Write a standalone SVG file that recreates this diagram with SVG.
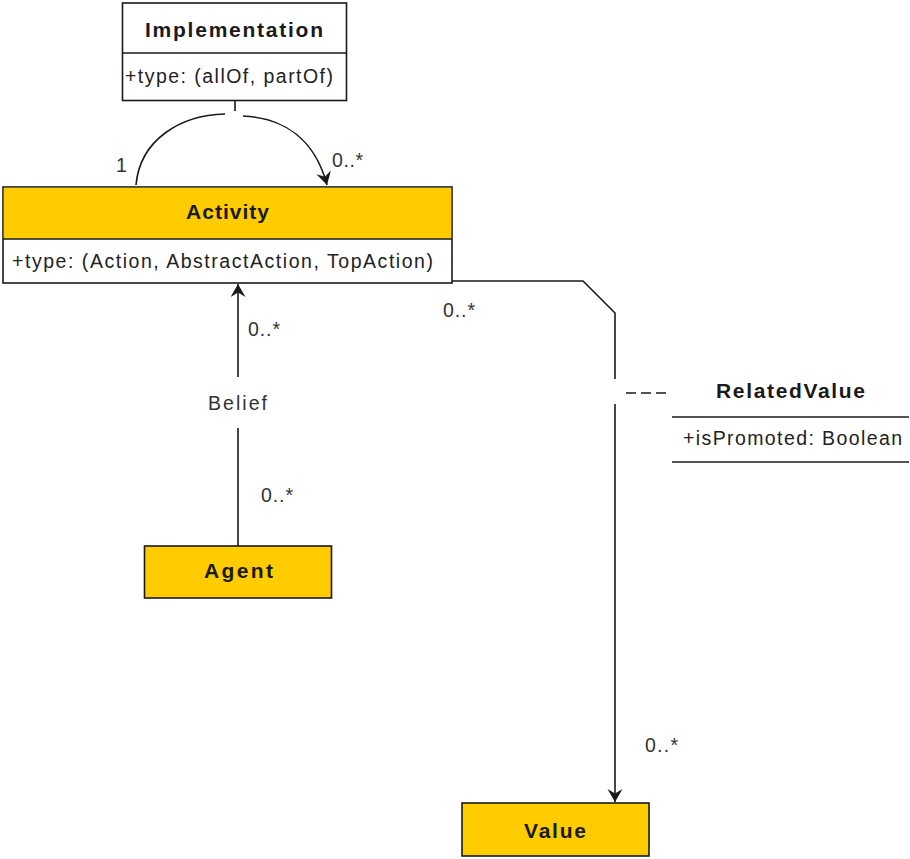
<svg xmlns="http://www.w3.org/2000/svg" width="910" height="859" viewBox="0 0 910 859">
  <style>
    .box { fill: #ffffff; stroke: #1a1a1a; stroke-width: 1.6; }
    .hl { fill: #ffcc00; }
    .line { fill: none; stroke: #1a1a1a; stroke-width: 1.6; }
    .name { font-family: "Liberation Sans", Arial, sans-serif; font-size: 21px; font-weight: bold; fill: #1a1a1a; }
    .attr { font-family: "Liberation Sans", Arial, sans-serif; font-size: 19.5px; fill: #222222; }
    .lbl { font-family: "Liberation Sans", Arial, sans-serif; font-size: 19.5px; fill: #333333; }
  </style>
  <defs>
    <marker id="arrow" markerWidth="18" markerHeight="18" refX="13" refY="7.5" orient="auto" markerUnits="userSpaceOnUse">
      <path d="M13,7.5 L0,0 L4.5,7.5 L0,15 Z" fill="#1a1a1a"/>
    </marker>
  </defs>

  <!-- associations -->
  <g id="connectors">
    <!-- Implementation association class on Activity self-loop -->
    <line class="line" x1="235" y1="101" x2="235" y2="111"/>
    <path class="line" d="M136,185 C140,140 180,115 225,114"/>
    <path class="line" d="M243,116 C285,118 315,140 327,185" marker-end="url(#arrow)"/>
    <!-- Belief: Agent to Activity -->
    <line class="line" x1="238" y1="546" x2="238" y2="428"/>
    <line class="line" x1="238" y1="377" x2="238" y2="284" marker-end="url(#arrow)"/>
    <!-- Activity to Value -->
    <polyline class="line" points="452,281 583,281 615,313 615,379"/>
    <line class="line" x1="615" y1="404" x2="615" y2="802" marker-end="url(#arrow)"/>
    <!-- link to RelatedValue -->
    <line class="line" x1="626" y1="393" x2="667" y2="393" stroke-dasharray="10,5"/>
    <!-- multiplicities -->
    <text class="lbl" x="116" y="172">1</text>
    <text class="lbl" x="332" y="167" textLength="31" lengthAdjust="spacing">0..*</text>
    <text class="lbl" x="248" y="336" textLength="32" lengthAdjust="spacing">0..*</text>
    <text class="lbl" x="261" y="502" textLength="32" lengthAdjust="spacing">0..*</text>
    <text class="lbl" x="443" y="317" textLength="32" lengthAdjust="spacing">0..*</text>
    <text class="lbl" x="645" y="752" textLength="33" lengthAdjust="spacing">0..*</text>
    <text class="lbl" x="208" y="410" textLength="59" lengthAdjust="spacing">Belief</text>
  </g>

  <g id="implementation">
    <rect class="box" x="122.5" y="3" width="224" height="97.5"/>
    <line class="line" x1="122.5" y1="53" x2="346.5" y2="53"/>
    <text class="name" x="145" y="37" textLength="178" lengthAdjust="spacing">Implementation</text>
    <text class="attr" x="125" y="83" textLength="208" lengthAdjust="spacing">+type: (allOf, partOf)</text>
  </g>

  <g id="activity">
    <rect class="box" x="3" y="187" width="449" height="96"/>
    <rect class="hl" x="3.8" y="187.8" width="447.4" height="51"/>
    <line class="line" x1="3" y1="239" x2="452" y2="239"/>
    <text class="name" x="186" y="219" textLength="83" lengthAdjust="spacing">Activity</text>
    <text class="attr" x="12" y="268" textLength="421" lengthAdjust="spacing">+type: (Action, AbstractAction,  TopAction)</text>
  </g>

  <g id="related-value">
    <text class="name" x="716" y="398" textLength="149" lengthAdjust="spacing">RelatedValue</text>
    <line class="line" x1="672" y1="417" x2="909" y2="417"/>
    <text class="attr" x="683" y="445" textLength="219" lengthAdjust="spacing">+isPromoted: Boolean</text>
    <line class="line" x1="672" y1="462" x2="909" y2="462"/>
  </g>

  <g id="agent">
    <rect class="box hl" x="144.5" y="546" width="187" height="52"/>
    <text class="name" x="204" y="578" textLength="69" lengthAdjust="spacing">Agent</text>
  </g>

  <g id="value">
    <rect class="box hl" x="462" y="803" width="187" height="53"/>
    <text class="name" x="524" y="838" textLength="62" lengthAdjust="spacing">Value</text>
  </g>
</svg>
